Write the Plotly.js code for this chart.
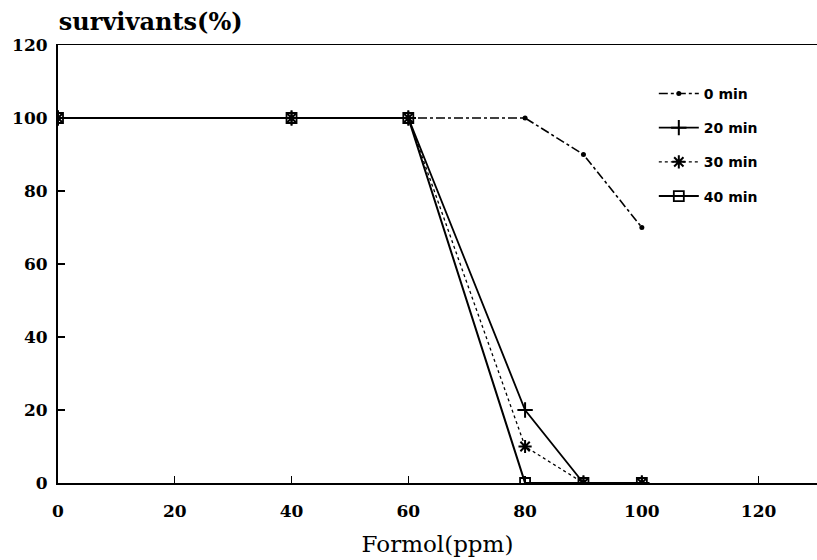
<!DOCTYPE html>
<html>
<head>
<meta charset="utf-8">
<script src="https://cdn.plot.ly/plotly-3.0.1.min.js"></script>
<style>html,body{margin:0;padding:0;background:#fff;}#chart{width:817px;height:560px;}</style>
</head>
<body>
<div id="chart"></div>
<script>
const formol = [0, 40, 60, 80, 90, 100];
const min0 = [100, 100, 100, 100, 90, 70];
const min20 = [100, 100, 100, 20, 0, 0];
const min30 = [100, 100, 100, 10, 0, 0];
const min40 = [100, 100, 100, 0, 0, 0];
const seriesNames = ['0 min', '20 min', '30 min', '40 min'];
const xTicks = [0, 20, 40, 60, 80, 100, 120];
const yTicks = [0, 20, 40, 60, 80, 100, 120];

const traces = [
  {x: formol, y: min0, name: seriesNames[0], legendgroup: 'a', mode: 'lines+markers',
   line: {color: '#000', width: 1.6, dash: 'dashdot'},
   marker: {symbol: 'circle', size: 5, color: '#000'}},
  {x: formol, y: min20, name: seriesNames[1], legendgroup: 'b', mode: 'lines+markers',
   line: {color: '#000', width: 1.8, dash: 'solid'},
   marker: {symbol: 'cross-thin-open', size: 11, color: '#000', line: {width: 2, color: '#000'}}},
  {x: formol, y: min30, name: seriesNames[2], legendgroup: 'c', mode: 'lines+markers',
   line: {color: '#000', width: 1.3, dash: 'dot'},
   marker: {symbol: 'asterisk-open', size: 11, color: '#000', line: {width: 2, color: '#000'}}},
  {x: formol, y: min40, name: seriesNames[3], legendgroup: 'd', mode: 'lines+markers',
   line: {color: '#000', width: 2, dash: 'solid'},
   marker: {symbol: 'square-open', size: 10, color: '#000', line: {width: 1.8, color: '#000'}}}
];

const layout = {
  width: 817, height: 560,
  margin: {l: 58, r: 0, t: 45, b: 77},
  paper_bgcolor: '#fff', plot_bgcolor: '#fff',
  title: {text: 'survivants(%)', x: 0.072, xref: 'container', xanchor: 'left',
          y: 0.962, yref: 'container', yanchor: 'middle',
          font: {family: 'DejaVu Serif', size: 24, color: '#000', weight: 'bold'}},
  xaxis: {range: [0, 130], tickvals: xTicks, ticktext: xTicks.map(String),
          ticks: 'inside', ticklen: 7, tickwidth: 1.2, tickcolor: '#000',
          showline: true, linecolor: '#000', linewidth: 1.5, mirror: true,
          showgrid: false, zeroline: false,
          tickfont: {family: 'DejaVu Serif', size: 17, color: '#000', weight: 'bold'},
          ticklabelstandoff: 12,
          title: {text: 'Formol(ppm)', standoff: 16,
                  font: {family: 'DejaVu Serif', size: 23, color: '#000'}}},
  yaxis: {range: [0, 120], tickvals: yTicks, ticktext: yTicks.map(String),
          ticks: 'inside', ticklen: 7, tickwidth: 1.2, tickcolor: '#000',
          showline: true, linecolor: '#000', linewidth: 2, mirror: false,
          showgrid: false, zeroline: false,
          tickfont: {family: 'DejaVu Serif', size: 17, color: '#000', weight: 'bold'},
          ticklabelstandoff: 5},
  showlegend: true,
  legend: {x: 0.785, y: 0.925, xanchor: 'left', yanchor: 'top',
           bgcolor: 'rgba(0,0,0,0)', borderwidth: 0, tracegroupgap: 13,
           itemwidth: 40,
           font: {family: 'DejaVu Sans', size: 14, color: '#000', weight: 'bold'}}
};

Plotly.newPlot('chart', traces, layout, {displayModeBar: false, staticPlot: true});
</script>
</body>
</html>
